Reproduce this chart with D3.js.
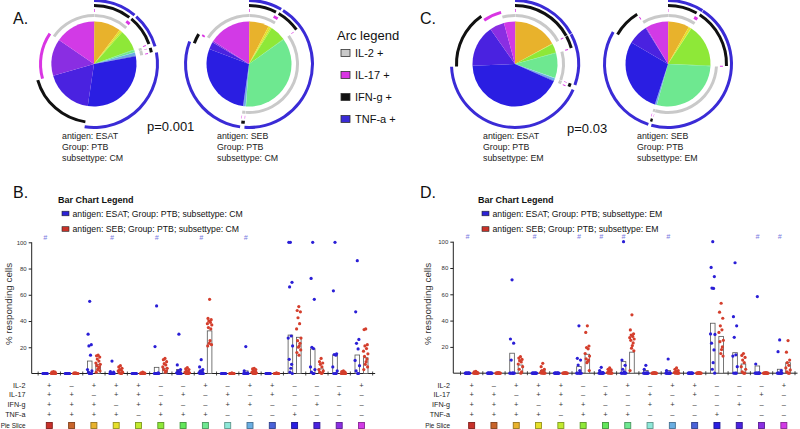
<!DOCTYPE html>
<html><head><meta charset="utf-8">
<script src="https://cdn.jsdelivr.net/npm/d3@7/dist/d3.min.js"></script>
<style>body{margin:0;background:#fff}svg{display:block;font-family:"Liberation Sans",Arial,sans-serif}</style>
</head><body>
<svg id="c" width="800" height="429"></svg>
<script>
// ---------- combination table ----------
const cytokineNames = ["IL-2", "IL-17", "IFN-g", "TNF-a"];
const comboIL2  = ["+","-","+","+","+","-","-","+","-","+","+","-","-","-","+"];
const comboIL17 = ["+","+","-","+","+","-","+","-","+","-","+","-","-","+","-"];
const comboIFNg = ["+","+","+","-","+","+","-","-","+","+","-","-","+","-","-"];
const comboTNFa = ["+","+","+","+","-","+","+","+","-","-","-","+","-","-","-"];
const sliceColors = ["#c8302a","#c8642a","#e8b22c","#e6e02a","#c2ea2e","#8ee838","#62e65a","#6ee890",
                     "#8ee8d8","#6aaee2","#4a62d8","#2a1ee2","#4a22e0","#8a2ee2","#d23ae6"];
const arcColors = ["#c9c9c9","#d935e3","#111111","#3a2bd6"];
const arcLegendLabels = ["IL-2 +","IL-17 +","IFN-g +","TNF-a +"];

// ---------- pie slice sizes (degrees, in table order) ----------
const pieA1 = [0.5,0.3,36,2.5,2,28,1,3,0.5,4,1,108,65,50,55];
const pieA2 = [0.5,0.3,27,3,2,22,0.5,131,0.5,3,0.5,104,10,2,58];
const pieC1 = [0.5,0.3,60,0.5,0.5,12,1,34,0.5,3,1,153,57,20,15];
const pieC2 = [0.3,0.2,29,3.5,0.5,59,1,103,0.3,2,0.5,103,28,1,31];
const pieLabelsA1 = ["antigen: ESAT","Group: PTB","subsettype: CM"];
const pieLabelsA2 = ["antigen: SEB","Group: PTB","subsettype: CM"];
const pieLabelsC1 = ["antigen: ESAT","Group: PTB","subsettype: EM"];
const pieLabelsC2 = ["antigen: SEB","Group: PTB","subsettype: EM"];
const pValueA = "p=0.001";
const pValueC = "p=0.03";

// ---------- bar chart B (CM) ----------
const bEsat = [
 [0,0,0,0,0,0,0,0,0,0],[0,0,0,0,0,0,0,0,0,0],
 [55,30,22,21,14,3,2,1,0,0,0,0],[9.5,1.5,1,0,0,0,0,0,0,0],[0,0,0,0,0,0,0,0,0,0],
 [51.5,20.5,0.5,0,0,0,0,0,0,0],[30,6.5,3,2,1,0.5,0,0,0,0],[10.5,5,3,2,1,0.5,0,0,0,0],
 [0,0,0,0,0,0,0,0,0,0],[20.5,2,0.5,0,0,0,0,0,0,0],[0,0,0,0,0,0,0,0,0,0],
 [100,100,69.5,66,28.6,27,21,10.8,7,4,1,0],[100,72.5,56.5,20,19,5,3,1,0,0],
 [100,63,15,14.5,14,5,2,0,0,0],[86,47,26,23,18.7,10,6,2,0,0]];
const bSeb = [
 [1.5,1,1,0.5,0.5,0,0,0,0,0],[0.5,0.5,0,0,0,0,0,0,0,0],
 [14,13.5,12.5,11,9.5,8,7,6,5,4,3,2,1],[6,5,4,3,2.5,2,1,0.5,0,0],[1,0.5,0.5,0,0,0,0,0,0,0],
 [11.5,10.5,9,7.5,6.5,5,4,3,2,1],[4.5,3.5,3,2,1.5,1,0.5,0,0,0],
 [56.5,42,41,40,39,38,37,35,34,25,23,22,21],[0.5,0,0,0,0,0,0,0,0,0],
 [4,3.5,3,2,1.5,1,0.5,0,0,0],[0.5,0,0,0,0,0,0,0,0,0],
 [51,48,47,42.5,38,34,27,25,23,21,20,18,16,14],[11.5,9,8,7,5,3,2,1,0.5,0],
 [2,1.5,1,0.5,0.5,0,0,0,0,0],[34,33.5,22,21,19,17,15,13,11,9,7,5,3]];
const bBarEsat = [0,0,9.5,0.5,0,4.7,3,2,0,2,0,29.3,18.7,14.1,14.1];
const bBarSeb  = [0.5,0,7,2,0,4,1,32.5,0,1.5,0,27.6,3.5,0.5,12];
const bHash = [0,3,5,7,9];
const bLegend = ["antigen: ESAT; Group: PTB; subsettype: CM","antigen: SEB; Group: PTB; subsettype: CM"];

// ---------- bar chart D (EM) ----------
const dEsat = [
 [0,0,0,0,0,0,0,0,0,0],[0,0,0,0,0,0,0,0,0,0],
 [71,26,22.8,10,0,0,0,0,0,0],[0,0,0,0,0,0,0,0,0,0],[0,0,0,0,0,0,0,0,0,0],
 [36,11.3,10,6.2,2,0,0,0,0,0],[4.5,2,0.5,0,0,0,0,0,0,0],[100,10,6,3,1,0,0,0,0,0],
 [6,3,0,0,0,0,0,0,0,0],[10.8,2,0,0,0,0,0,0,0,0],[0,0,0,0,0,0,0,0,0,0],
 [100,80.4,73.5,64.7,64.5,29.9,29.5,22.8,17.7,8,3,0],[84,43,36,27.3,14,13,5,0,0,0],
 [58.3,7,0,0,0,0,0,0,0,0],[25.3,16.4,2,0,0,0,0,0,0,0]];
const dSeb = [
 [1.5,1,0.5,0,0,0,0,0,0,0],[0.5,0,0,0,0,0,0,0,0,0],
 [12.6,11.5,10.5,9.5,8.5,7,5,3,1,0],[7.5,5,3,2,1,0.5,0,0,0,0],[0.5,0,0,0,0,0,0,0,0,0],
 [36,31,20.7,19.5,18.5,15,13,11,10,9,8,2],[4,3,2.5,2,1,0.5,0,0,0,0],
 [44.4,32.9,30,29,28,27,26,25,23,21,19,17,2],[0.5,0,0,0,0,0,0,0,0,0],
 [4,3,2,1.5,1,0.5,0,0,0,0],[0.5,0,0,0,0,0,0,0,0,0],
 [53.2,46.4,41.8,36,33,31,25,24,20,18,15,13],[15,13.5,12,10,8,5,3,1,0,0],
 [0.5,0,0,0,0,0,0,0,0,0],[24.8,16,10,8,6,4,2.5,1,0,0]];
const dBarEsat = [0,0,15.2,0,0,5,1,8.8,2,2,0,38,15.6,5.5,3];
const dBarSeb  = [0.5,0,6.2,2,0,14.4,1,16,0,1,0,28,7,0,8];
const dHash = [0,3,5,6,7,9,13,14];
const dLegend = ["antigen: ESAT; Group: PTB; subsettype: EM","antigen: SEB; Group: PTB; subsettype: EM"];

const yTicks = [20,40,60,80,100];
const tableRowLabels = ["IL-2","IL-17","IFN-g","TNF-a","Pie Slice"];
const groupIds = d3.range(15);

// ======================================================
const svg = d3.select("#c");
const combos = [comboIL2, comboIL17, comboIFNg, comboTNFa];
const ringR = [48.5, 53.5, 58.5, 63.5];

function drawPie(cx, cy, values, labels, lx) {
  const g = svg.append("g").attr("transform", `translate(${cx},${cy})`);
  const pie = d3.pie().sort(null).value(d => d)(values);
  const arc = d3.arc().innerRadius(0).outerRadius(42.5);
  g.selectAll("path.s").data(pie).join("path").attr("class","s")
    .attr("d", arc).attr("fill", (d, i) => sliceColors[i]);
  combos.forEach((combo, k) => {
    const runs = []; let cur = null;
    pie.forEach((d, i) => {
      if (d.value <= 0) return;
      if (combo[i] === "+") {
        if (cur) cur.end = d.endAngle; else { cur = {start: d.startAngle, end: d.endAngle}; runs.push(cur); }
      } else cur = null;
    });
    if (runs.length > 1 && runs[0].start < 1e-6 && Math.abs(runs[runs.length - 1].end - 2 * Math.PI) < 1e-6) {
      const last = runs.pop(); runs[0].start = last.start - 2 * Math.PI;
    }
    const ra = d3.arc().innerRadius(ringR[k] - 1.5).outerRadius(ringR[k] + 1.5);
    g.selectAll(null).data(runs).join("path")
      .attr("d", r => ra({startAngle: r.start, endAngle: r.end}))
      .attr("fill", arcColors[k]);
  });
  const t = svg.append("g");
  labels.forEach((s, i) => t.append("text").attr("x", lx).attr("y", 139 + i * 11)
    .attr("font-size", 8.8).attr("fill", "#222").text(s));
}

drawPie(94, 64, pieA1, pieLabelsA1, 62);
drawPie(249, 64, pieA2, pieLabelsA2, 217);
drawPie(515, 64, pieC1, pieLabelsC1, 483);
drawPie(668, 64, pieC2, pieLabelsC2, 637);

svg.append("text").attr("x", 147).attr("y", 131).attr("font-size", 13).attr("fill", "#111").text(pValueA);
svg.append("text").attr("x", 567).attr("y", 133).attr("font-size", 13).attr("fill", "#111").text(pValueC);

// panel letters
[["A.",13,24],["B.",13,198],["C.",420,24],["D.",420,198]].forEach(([s,x,y]) =>
  svg.append("text").attr("x", x).attr("y", y).attr("font-size", 16).attr("fill", "#111").text(s));

// arc legend
svg.append("text").attr("x", 337).attr("y", 40).attr("font-size", 13).attr("fill", "#111").text("Arc legend");
arcLegendLabels.forEach((s, i) => {
  const y = 53 + i * 22;
  svg.append("rect").attr("x", 341).attr("y", y - 3.5).attr("width", 9).attr("height", 7)
    .attr("fill", arcColors[i]).attr("stroke", "#333").attr("stroke-width", 0.8);
  svg.append("text").attr("x", 355).attr("y", y + 4).attr("font-size", 11).attr("fill", "#111").text(s);
});

// ---------- bar charts ----------
function drawBars(cfg) {
  const {axisX, bandRange, yRange, esat, seb, barE, barS, hash, legend, legendX, labelEnd, titleX} = cfg;
  const g = svg.append("g");
  const x = d3.scaleBand().domain(groupIds).range(bandRange);
  const y = d3.scaleLinear().domain([0, 100]).range(yRange);
  const cx = i => x(i) + x.bandwidth() / 2;
  const off = 4.2, bw = 4.6;
  // legend
  g.append("text").attr("x", legendX - 4).attr("y", 203).attr("font-size", 9).attr("font-weight", "bold")
    .attr("fill", "#111").text("Bar Chart Legend");
  legend.forEach((s, i) => {
    const ly = 213.5 + i * 15.5;
    g.append("rect").attr("x", legendX).attr("y", ly - 2.3).attr("width", 7).attr("height", 4.6)
      .attr("fill", i ? "#c83228" : "#2c22d6").attr("stroke", "#222").attr("stroke-width", 0.6);
    g.append("text").attr("x", legendX + 10.5).attr("y", ly + 3).attr("font-size", 8.7).attr("fill", "#111").text(s);
  });
  // y axis
  const yAxis = d3.axisLeft(y).tickValues(yTicks).tickSize(3).tickPadding(2);
  const ya = g.append("g").attr("transform", `translate(${axisX},0)`).call(yAxis);
  ya.select(".domain").attr("stroke", "#222").attr("d", `M-0,${yRange[0]}V${yRange[1]}`);
  ya.selectAll(".tick line").attr("stroke", "#222");
  ya.selectAll(".tick text").attr("font-size", 6).attr("fill", "#333").attr("font-family", "Liberation Sans, Arial, sans-serif");
  g.append("text").attr("transform", `translate(${titleX},304) rotate(-90)`)
    .attr("text-anchor", "middle").attr("font-size", 9.8).attr("fill", "#333").text("% responding cells");
  // x axis
  const y0 = y(0);
  g.append("line").attr("x1", axisX).attr("x2", bandRange[1] + 2.5).attr("y1", y0).attr("y2", y0).attr("stroke", "#222");
  const bounds = groupIds.map(i => x(i)).concat([bandRange[1]]);
  g.selectAll(null).data(bounds).join("line").attr("x1", d => d).attr("x2", d => d)
    .attr("y1", y0 - 2).attr("y2", y0 + 2).attr("stroke", "#222").attr("stroke-width", 0.8);
  // bars
  [[barE, -off], [barS, off]].forEach(([vals, o]) => {
    g.selectAll(null).data(vals).join("rect")
      .attr("x", (d, i) => cx(i) + o - bw / 2).attr("width", bw)
      .attr("y", d => y(d)).attr("height", d => y0 - y(d))
      .attr("fill", "#fff").attr("stroke", "#555").attr("stroke-width", 0.8);
  });
  // points
  const jit = [0, -1.6, 1.6, -0.8, 0.8, -2.2, 2.2, -1.2, 1.2, 0.4, -0.4, 1.9, -1.9, 0.2];
  [[esat, -off, "#2a1ed6"], [seb, off, "#d43e2c"]].forEach(([series, o, col]) => {
    series.forEach((vals, i) => {
      g.selectAll(null).data(vals).join("circle")
        .attr("cx", (d, j) => cx(i) + o + jit[j % jit.length])
        .attr("cy", d => y(d)).attr("r", 1.6).attr("fill", col);
    });
  });
  // hash marks
  g.selectAll(null).data(hash).join("text")
    .attr("x", i => cx(i) - off).attr("y", yRange[1] - 2.5).attr("text-anchor", "middle")
    .attr("font-size", 7).attr("font-style", "italic").attr("fill", "#7878e0").text("#");
  // table
  const rowY = [385, 394.7, 404.7, 414.7, 425.5];
  tableRowLabels.forEach((s, r) => g.append("text").attr("x", labelEnd).attr("y", rowY[r] + 2.5)
    .attr("text-anchor", "end").attr("font-size", r === 4 ? 6.4 : 7.2).attr("fill", "#222").text(s));
  combos.forEach((combo, r) => {
    g.selectAll(null).data(combo).join("text").attr("x", (d, i) => cx(i)).attr("y", rowY[r] + 2.5)
      .attr("text-anchor", "middle").attr("font-size", 7.5).attr("fill", "#333")
      .text(d => d === "+" ? "+" : "\u2013");
  });
  g.selectAll(null).data(sliceColors).join("rect")
    .attr("x", (d, i) => cx(i) - 3).attr("y", rowY[4] - 3).attr("width", 6).attr("height", 6)
    .attr("fill", d => d).attr("stroke", d => d3.color(d).darker(1.2)).attr("stroke-width", 0.9);
}

drawBars({axisX: 31.7, bandRange: [38.15, 372.65], yRange: [373.5, 242.3], esat: bEsat, seb: bSeb,
  barE: bBarEsat, barS: bBarSeb, hash: bHash, legend: bLegend, legendX: 62, labelEnd: 25.5, titleX: 12});
drawBars({axisX: 453.3, bandRange: [460.5, 795], yRange: [373.2, 241.7], esat: dEsat, seb: dSeb,
  barE: dBarEsat, barS: dBarSeb, hash: dHash, legend: dLegend, legendX: 482, labelEnd: 450, titleX: 431});
</script>
</body></html>
